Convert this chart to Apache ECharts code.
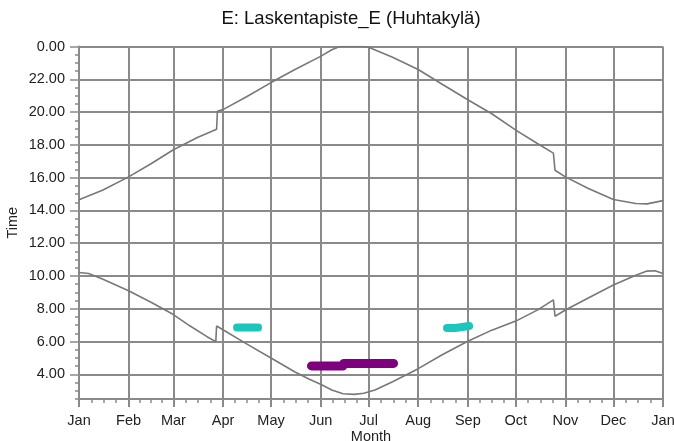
<!DOCTYPE html>
<html>
<head>
<meta charset="utf-8">
<script src="https://cdn.jsdelivr.net/npm/echarts@6/dist/echarts.min.js"></script>
<style>
  html, body { margin: 0; padding: 0; background: #ffffff; }
  #chart { width: 674px; height: 441px; }
</style>
</head>
<body>
<div id="chart"></div>
<script>
// Month axis: day-of-year where each month starts, and its label
const monthStarts = [0, 31, 59, 90, 120, 151, 181, 212, 243, 273, 304, 334, 365];
const monthNames = ['Jan', 'Feb', 'Mar', 'Apr', 'May', 'Jun', 'Jul', 'Aug', 'Sep', 'Oct', 'Nov', 'Dec', 'Jan'];

// Time axis: labelled hours (24 is shown as 0.00)
const hourTicks = [4, 6, 8, 10, 12, 14, 16, 18, 20, 22, 24];

// Sunset (upper curve), day-of-year and clock time in hours
const sunsetDay  = [0, 15, 31, 45, 59, 74, 86, 86.5, 90, 105, 120, 135, 151, 158, 163, 178, 181, 196, 212, 227, 243, 258, 273, 287, 296.5, 297.5, 304, 318, 334, 348, 355, 365];
const sunsetTime = [14.65, 15.25, 16.05, 16.85, 17.7, 18.45, 18.95, 20.05, 20.15, 20.95, 21.8, 22.6, 23.4, 23.8, 24.0, 24.0, 23.95, 23.35, 22.6, 21.7, 20.75, 19.9, 18.9, 18.05, 17.5, 16.45, 16.05, 15.35, 14.67, 14.42, 14.4, 14.6];

// Sunrise (lower curve)
const sunriseDay  = [0, 6, 15, 31, 45, 59, 69, 80, 85.5, 86, 90, 105, 120, 135, 144, 151, 158, 165, 172, 178, 185, 196, 212, 227, 243, 258, 273, 287, 296.5, 297.5, 304, 318, 334, 348, 355, 360, 365];
const sunriseTime = [10.22, 10.15, 9.8, 9.1, 8.4, 7.65, 6.98, 6.3, 6.0, 6.95, 6.72, 5.85, 5.0, 4.15, 3.7, 3.4, 3.05, 2.82, 2.78, 2.85, 3.05, 3.55, 4.35, 5.2, 6.02, 6.7, 7.25, 7.95, 8.55, 7.55, 7.93, 8.65, 9.45, 10.05, 10.3, 10.32, 10.15];

// Shadow periods
const aprilDay = [98.8, 111.9];
const aprilTime = [6.86, 6.86];
const septDay = [230, 235, 235.5, 243.8];
const septTime = [6.83, 6.83, 6.95, 6.95];
const summerDay = [145.3, 165, 165.5, 196.6];
const summerTime = [4.52, 4.52, 4.67, 4.67];

const pairs = (xs, ys) => xs.map((x, i) => [x, ys[i]]);

// quarter-month minor ticks on the month axis
const monthMinor = [];
for (let m = 0; m < 12; m++) {
  const a = monthStarts[m], len = monthStarts[m + 1] - a;
  for (let k = 1; k < 4; k++) monthMinor.push(a + len * k / 4);
}
// half-hour minor ticks on the time axis
const hourMinor = [];
for (let h = 2.5; h <= 24.001; h += 0.5) hourMinor.push(h);

const gridGray = '#8a8a8a';
const curveGray = '#787878';
const labelFont = { fontFamily: 'Liberation Sans, Arial, sans-serif', fontSize: 14.5, color: '#222' };

const chart = echarts.init(document.getElementById('chart'), null, { renderer: 'canvas' });
chart.setOption({
  animation: false,
  backgroundColor: '#ffffff',
  title: {
    text: 'E: Laskentapiste_E (Huhtakylä)',
    left: 346,
    textAlign: 'center',
    top: 4,
    textStyle: { fontFamily: 'Liberation Sans, Arial, sans-serif', fontSize: 18.5, fontWeight: 'normal', color: '#111' }
  },
  grid: { left: 79, right: 11, top: 46.5, bottom: 42, containLabel: false, outerBoundsMode: 'none' },
  xAxis: [{
    type: 'value', min: 0, max: 365,
    name: 'Month', nameLocation: 'middle', nameGap: 30, nameMoveOverlap: false,
    nameTextStyle: labelFont,
    axisLine: { show: true, lineStyle: { color: gridGray, width: 2 } },
    axisTick: { show: true, customValues: monthStarts, length: 8, lineStyle: { color: gridGray, width: 2 } },
    axisLabel: { ...labelFont, margin: 14, customValues: monthStarts,
      formatter: v => monthNames[monthStarts.indexOf(Math.round(v))] || '' },
    splitLine: { show: true, lineStyle: { color: gridGray, width: 2 } }
  }, {
    type: 'value', min: 0, max: 365, position: 'bottom', gridIndex: 0,
    axisLine: { show: false },
    axisTick: { show: true, customValues: monthMinor, length: 4, lineStyle: { color: gridGray, width: 1.5 } },
    axisLabel: { show: false },
    splitLine: { show: false }
  }],
  yAxis: [{
    type: 'value', min: 2.5, max: 24,
    name: 'Time', nameLocation: 'middle', nameGap: 59, nameRotate: 90, nameMoveOverlap: false,
    nameTextStyle: labelFont,
    axisLine: { show: true, lineStyle: { color: gridGray, width: 2 } },
    axisTick: { show: true, customValues: hourTicks, length: 9, lineStyle: { color: gridGray, width: 1.5 } },
    axisLabel: { ...labelFont, margin: 14, customValues: hourTicks,
      formatter: v => (v >= 24 ? 0 : v).toFixed(2) },
    splitLine: { show: true, lineStyle: { color: gridGray, width: 2 } }
  }, {
    type: 'value', min: 2.5, max: 24, position: 'left', gridIndex: 0,
    axisLine: { show: false },
    axisTick: { show: true, customValues: hourMinor, length: 4, lineStyle: { color: gridGray, width: 1.5 } },
    axisLabel: { show: false },
    splitLine: { show: false }
  }],
  series: [
    { name: 'Sunset', type: 'line', data: pairs(sunsetDay, sunsetTime), symbol: 'none', clip: true,
      lineStyle: { color: curveGray, width: 1.6 } },
    { name: 'Sunrise', type: 'line', data: pairs(sunriseDay, sunriseTime), symbol: 'none',
      lineStyle: { color: curveGray, width: 1.6 } },
    { name: 'April', type: 'line', data: pairs(aprilDay, aprilTime), symbol: 'none',
      lineStyle: { color: '#1cc6bf', width: 8, cap: 'round', join: 'round' } },
    { name: 'September', type: 'line', data: pairs(septDay, septTime), symbol: 'none',
      lineStyle: { color: '#1cc6bf', width: 8, cap: 'round', join: 'round' } },
    { name: 'Summer', type: 'line', data: pairs(summerDay, summerTime), symbol: 'none',
      lineStyle: { color: '#7f007f', width: 9, cap: 'round', join: 'round' } }
  ]
});
</script>
</body>
</html>
